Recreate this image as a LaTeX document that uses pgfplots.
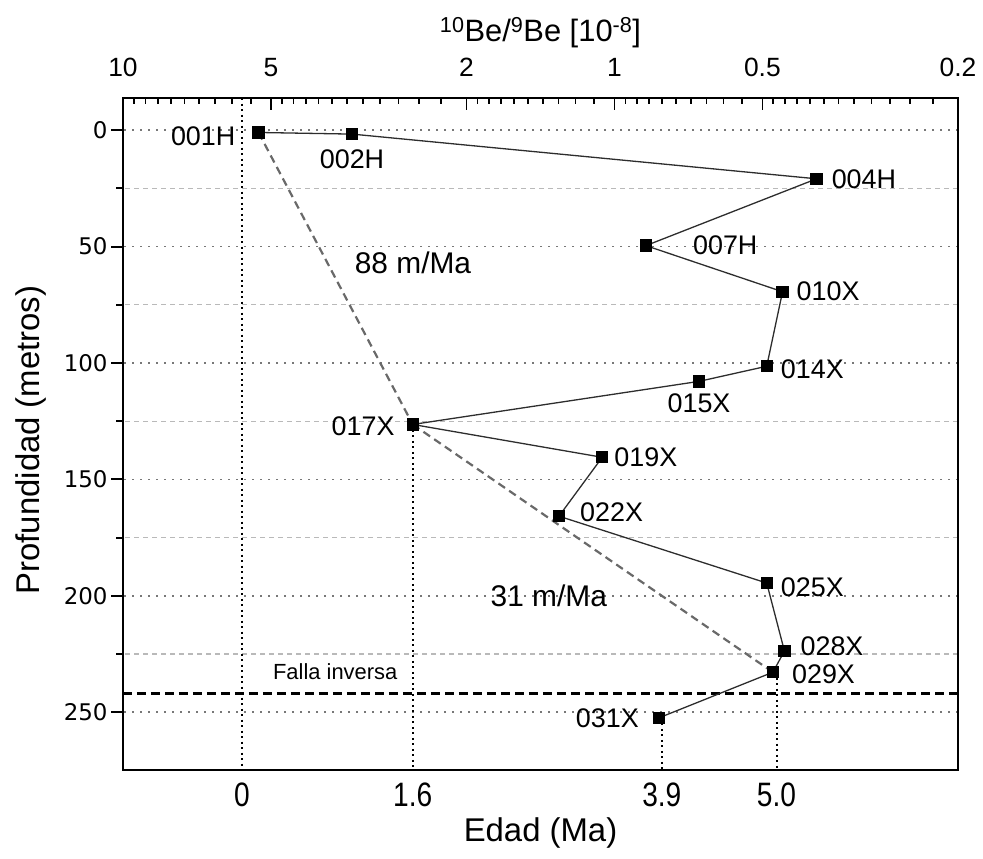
\documentclass[border=0pt]{standalone}
\usepackage{fontspec}
\setmainfont{Liberation Sans}
\newfontfamily\dejavu{DejaVu Sans}
\newfontfamily\narrowfont[FakeStretch=0.83]{Liberation Sans}
\usepackage{pgfplots}
\pgfplotsset{compat=1.18}
\pgfkeys{/pgf/number format/assume math mode=true}
\definecolor{lineg}{RGB}{45,45,45}
\definecolor{dashg}{RGB}{105,105,105}
\definecolor{majg}{RGB}{120,120,120}
\definecolor{ming}{RGB}{185,185,185}
\newcommand\fsz[1]{\fontsize{#1}{#1}\selectfont}
\tikzset{lab/.style={font=\fsz{27}, inner sep=0pt}}

\begin{document}
\begin{tikzpicture}
\begin{axis}[name=main,
  scale only axis, width=835bp, height=672bp,
  xmode=log, x dir=reverse, xmin=0.2, xmax=10,
  y dir=reverse, ymin=-13.8, ymax=274.8,
  axis line style={line width=2.5bp},
  ytick={0,50,100,150,200,250},
  yticklabels={0,50,100,150,200,250},
  minor ytick={25,75,125,175,225},
  ytick pos=left,
  tick align=outside,
  major tick length=12bp, minor tick length=7bp,
  every tick/.style={line width=2bp, black},
  xtick={5.726,2.573,0.801,0.468},
  xticklabels={0,1.6,3.9,5.0},
  xtick pos=bottom,
  major x tick style={draw=none},
  xminorticks=false,
  ymajorgrids, yminorgrids,
  major grid style={majg, line width=1.8bp, dash pattern=on 2bp off 6bp},
  minor grid style={ming, line width=1.2bp, dash pattern=on 5bp off 4bp},
  yticklabel style={font=\dejavu\fsz{23}},
  xticklabel style={font=\narrowfont\fsz{34}, anchor=base, yshift=-24.7bp},
  clip=false,
]
% age reference lines (vertical dotted)
\addplot[black, line width=2bp, dash pattern=on 2bp off 3.5bp] coordinates {(5.726,-13.8) (5.726,274.8)};
\addplot[black, line width=2bp, dash pattern=on 2bp off 3.5bp] coordinates {(2.573,126.4) (2.573,274.8)};
\addplot[black, line width=2bp, dash pattern=on 2bp off 3.5bp] coordinates {(0.801,252.4) (0.801,274.8)};
\addplot[black, line width=2bp, dash pattern=on 2bp off 3.5bp] coordinates {(0.468,232.8) (0.468,274.8)};
% reverse fault
\addplot[black, line width=3bp, dash pattern=on 9bp off 5bp] coordinates {(10,242) (0.2,242)};
% samples
\addplot[lineg, line width=1.3bp, mark=square*, mark size=5.5bp,
  mark options={solid, fill=black, draw=black}] coordinates {
  (5.30,1.0) (3.42,1.7) (0.388,20.9) (0.863,49.6) (0.455,69.4)
  (0.490,101.4) (0.673,107.9) (2.573,126.4) (1.059,140.5) (1.297,165.8)
  (0.490,194.5) (0.451,223.7) (0.476,232.8) (0.812,252.4)};
% accumulation-rate lines
\addplot[dashg, line width=2.2bp, dash pattern=on 8bp off 5bp] coordinates {(5.30,1.0) (2.573,126.4)};
\addplot[dashg, line width=2.2bp, dash pattern=on 8bp off 5bp] coordinates {(2.573,126.4) (0.476,232.8)};
% labels
\node[lab, anchor=east] at (axis cs:5.30,1.0) [xshift=-23bp, yshift=-4bp] {001H};
\node[lab, anchor=north] at (axis cs:3.42,1.7) [yshift=-15bp] {002H};
\node[lab, anchor=west] at (axis cs:0.388,20.9) [xshift=15bp] {004H};
\node[lab, anchor=west] at (axis cs:0.863,49.6) [xshift=47bp] {007H};
\node[lab, anchor=west] at (axis cs:0.455,69.4) [xshift=14bp] {010X};
\node[lab, anchor=west] at (axis cs:0.490,101.4) [xshift=14bp, yshift=-3bp] {014X};
\node[lab, anchor=north] at (axis cs:0.673,107.9) [yshift=-12bp] {015X};
\node[lab, anchor=east] at (axis cs:2.573,126.4) [xshift=-18bp, yshift=-2bp] {017X};
\node[lab, anchor=west] at (axis cs:1.059,140.5) [xshift=12bp] {019X};
\node[lab, anchor=west] at (axis cs:1.297,165.8) [xshift=21bp, yshift=4bp] {022X};
\node[lab, anchor=west] at (axis cs:0.490,194.5) [xshift=14bp, yshift=-4bp] {025X};
\node[lab, anchor=west] at (axis cs:0.451,223.7) [xshift=16bp, yshift=5bp] {028X};
\node[lab, anchor=west] at (axis cs:0.476,232.8) [xshift=19bp, yshift=-2bp] {029X};
\node[lab, anchor=east] at (axis cs:0.812,252.4) [xshift=-20bp] {031X};
\node[font=\fsz{30}, inner sep=0pt] at (axis cs:2.57,56.8) {88 m/Ma};
\node[font=\fsz{30}, inner sep=0pt] at (axis cs:1.36,200) {31 m/Ma};
\node[font=\fsz{22}, inner sep=0pt] at (axis cs:3.70,232.7) {Falla inversa};
\end{axis}
\begin{axis}[
  scale only axis, width=835bp, height=672bp,
  xmode=log, x dir=reverse, xmin=0.2, xmax=10,
  y dir=reverse, ymin=-13.8, ymax=274.8,
  axis line style={line width=2.5bp},
  axis x line*=top, axis y line=none,
  xtick={10,5,2,1,0.5,0.2},
  xticklabels={10,5,2,1,0.5,0.2},
  minor xtick={9.5,9,8.5,8,7.5,7,6.5,6,5.5,
    4.75,4.5,4.25,4,3.75,3.5,3.25,3,2.75,2.5,2.25,
    1.9,1.8,1.7,1.6,1.5,1.4,1.3,1.2,1.1,
    0.95,0.9,0.85,0.8,0.75,0.7,0.65,0.6,0.55,
    0.475,0.45,0.425,0.4,0.375,0.35,0.325,0.3,0.275,0.25,0.225},
  tick align=inside,
  major tick length=12bp, minor tick length=6bp,
  every tick/.style={line width=1.8bp, black},
  xticklabel style={font=\fsz{26.5}, anchor=base, yshift=21bp},
]
\end{axis}
\node[font=\fsz{31}, anchor=base] at ([yshift=56.5bp]main.north) {\textsuperscript{10}Be/\textsuperscript{9}Be [10\textsuperscript{-8}]};
\node[font=\fsz{33}, anchor=base] at ([yshift=-71.7bp]main.south) {Edad (Ma)};
\node[font=\fsz{33}, rotate=90] at ([xshift=-92bp, yshift=-6bp]main.west) {Profundidad (metros)};
\pgfresetboundingbox
\path[use as bounding box] ([xshift=-123bp,yshift=-89bp]main.south west) rectangle ([xshift=25bp,yshift=98bp]main.north east);
\end{tikzpicture}
\end{document}
